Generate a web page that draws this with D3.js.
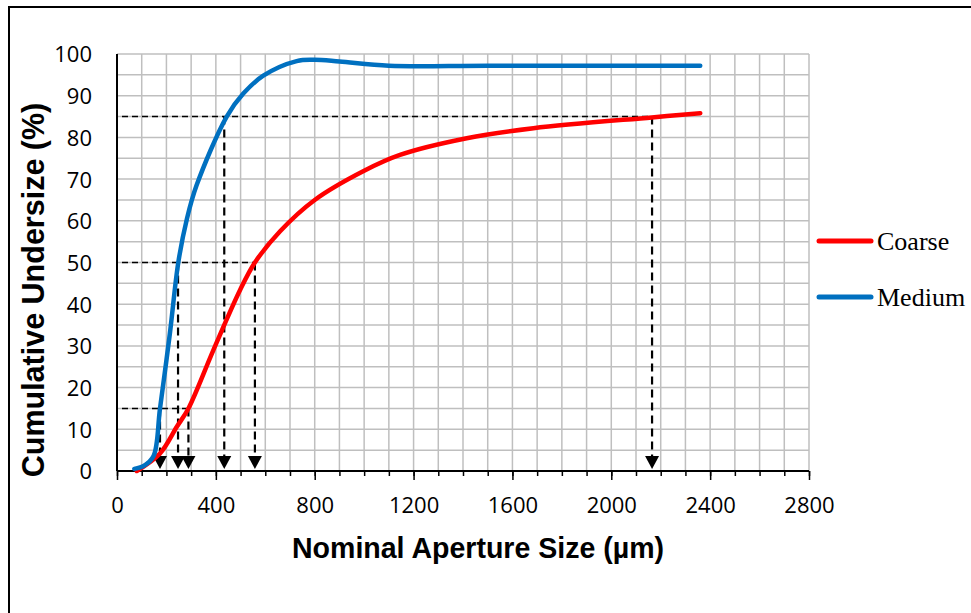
<!DOCTYPE html>
<html>
<head>
<meta charset="utf-8">
<script src="https://cdn.jsdelivr.net/npm/d3@7/dist/d3.min.js"></script>
<style>
	body { margin: 0; background: #fff; }
	svg { display: block; }
</style>
</head>
<body>
<script>
var svgWidth = 971;
var svgHeight = 613;
var plot = {left: 117, top: 54, right: 809, bottom: 471};

// 粒度数据 (µm, %)
var mediumSize = [70, 110, 148, 174, 214, 248, 283, 322, 444, 511, 592, 727, 800, 900, 1100, 1500, 2360];
var mediumPass = [0.5, 1.3, 3.6, 15, 33, 50, 60.5, 68.5, 85, 90.5, 94.8, 98.3, 98.6, 98.2, 97.2, 97.2, 97.2];
var coarseSize = [80, 174, 242, 289, 390, 498, 558, 660, 800, 1000, 1145, 1415, 1685, 2164, 2360];
var coarsePass = [0, 4.2, 10.6, 15, 29, 43.4, 50, 57.5, 65, 72, 75.8, 79.8, 82.2, 84.8, 85.8];

// D15 / D50 / D85 标注
var levels = [15, 50, 85];
var mediumD = [174, 247, 434];
var coarseD = [289, 558, 2165];

var xTicks = [0, 400, 800, 1200, 1600, 2000, 2400, 2800];
var yTicks = [0, 10, 20, 30, 40, 50, 60, 70, 80, 90, 100];
var seriesNames = ['Coarse', 'Medium'];
var seriesColors = ['#ff0000', '#0070c0'];

var svg = d3.select('body').append('svg')
	.attr('width', svgWidth)
	.attr('height', svgHeight);

svg.append('rect')
	.attr('width', svgWidth).attr('height', svgHeight)
	.attr('fill', '#fff');

// 外框
svg.append('rect')
	.attr('x', 9).attr('y', 7)
	.attr('width', 1000).attr('height', 700)
	.attr('fill', 'none')
	.attr('stroke', '#000')
	.attr('stroke-width', 2);

var x = d3.scaleLinear().domain([0, 2800]).range([plot.left, plot.right]);
var y = d3.scaleLinear().domain([0, 100]).range([plot.bottom, plot.top]);

// 网格
var gridG = svg.append('g').attr('id', 'grid');
gridG.selectAll('line.vgrid')
	.data(d3.range(100, 2801, 100))
	.enter().append('line')
	.attr('class', 'vgrid')
	.attr('x1', function(d) { return x(d); })
	.attr('x2', function(d) { return x(d); })
	.attr('y1', y(0)).attr('y2', y(100))
	.attr('stroke', '#bfbfbf').attr('stroke-width', 1.5);
gridG.selectAll('line.hgrid')
	.data(d3.range(5, 101, 5))
	.enter().append('line')
	.attr('class', 'hgrid')
	.attr('y1', function(d) { return y(d); })
	.attr('y2', function(d) { return y(d); })
	.attr('x1', x(0)).attr('x2', x(2800))
	.attr('stroke', '#bfbfbf').attr('stroke-width', 1.5);

// 坐标轴
var minorAxis = d3.axisBottom(x).tickValues(d3.range(0, 2801, 100)).tickSize(5).tickFormat('');
var majorAxis = d3.axisBottom(x).tickValues(xTicks).tickSize(9).tickPadding(17).tickFormat(d3.format('d'));
var leftAxis = d3.axisLeft(y).tickValues(yTicks).tickSize(0).tickPadding(25);

var gx1 = svg.append('g').attr('transform', 'translate(0,' + y(0) + ')').call(minorAxis);
var gx2 = svg.append('g').attr('transform', 'translate(0,' + y(0) + ')').call(majorAxis);
var gy = svg.append('g').attr('transform', 'translate(' + x(0) + ',0)').call(leftAxis);
[gx1, gx2, gy].forEach(function(g) {
	g.select('.domain').remove();
	g.selectAll('.tick line').attr('stroke', '#000').attr('stroke-width', 1.5);
	g.selectAll('.tick text')
		.attr('fill', '#000')
		.style('font-family', '"Open Sans", sans-serif')
		.style('font-size', '22px');
});
gx2.selectAll('.tick line').attr('y2', 9);
gy.selectAll('.tick text').attr('dy', '0.36em');

svg.append('line')
	.attr('x1', x(0)).attr('x2', x(2800))
	.attr('y1', y(0)).attr('y2', y(0))
	.attr('stroke', '#000').attr('stroke-width', 2);
svg.append('line')
	.attr('x1', x(0)).attr('x2', x(0))
	.attr('y1', y(0)).attr('y2', y(100))
	.attr('stroke', '#000').attr('stroke-width', 2);

// 虚线标注
var markG = svg.append('g').attr('id', 'marks');
var hEnds = levels.map(function(lv, i) { return Math.max(mediumD[i], coarseD[i]); });
markG.selectAll('line.hdash')
	.data(levels)
	.enter().append('line')
	.attr('class', 'hdash')
	.attr('x1', x(0) + 5)
	.attr('x2', function(d, i) { return x(hEnds[i]); })
	.attr('y1', function(d) { return y(d); })
	.attr('y2', function(d) { return y(d); })
	.attr('stroke', '#000').attr('stroke-width', 1.5)
	.attr('stroke-dasharray', '6,4');

var drops = [];
levels.forEach(function(lv, i) {
	drops.push({d: mediumD[i], lv: lv});
	drops.push({d: coarseD[i], lv: lv});
});

markG.selectAll('line.vdash')
	.data(drops)
	.enter().append('line')
	.attr('class', 'vdash')
	.attr('x1', function(d) { return x(d.d); })
	.attr('x2', function(d) { return x(d.d); })
	.attr('y1', function(d) { return y(d.lv); })
	.attr('y2', y(0) - 13)
	.attr('stroke', '#000').attr('stroke-width', 2.2)
	.attr('stroke-dasharray', '8,5');

markG.selectAll('path.arrow')
	.data(drops)
	.enter().append('path')
	.attr('class', 'arrow')
	.attr('d', function(d) {
		var cx = x(d.d), tip = y(0) - 2, base = y(0) - 15;
		return 'M' + (cx - 7) + ',' + base + 'L' + (cx + 7) + ',' + base + 'L' + cx + ',' + tip + 'Z';
	})
	.attr('fill', '#000');

// 曲线
var line = d3.line()
	.x(function(d) { return x(d[0]); })
	.y(function(d) { return y(d[1]); })
	.curve(d3.curveCatmullRom.alpha(0.5));

var seriesData = [d3.zip(coarseSize, coarsePass), d3.zip(mediumSize, mediumPass)];

svg.append('g').selectAll('path.series')
	.data(seriesData)
	.enter().append('path')
	.attr('class', 'series')
	.attr('d', line)
	.attr('fill', 'none')
	.attr('stroke', function(d, i) { return seriesColors[i]; })
	.attr('stroke-width', 4.5)
	.attr('stroke-linecap', 'round')
	.attr('stroke-linejoin', 'round');

// 图例
var legendY = [241, 297];
var legend = svg.append('g').selectAll('g')
	.data(seriesNames)
	.enter().append('g')
	.attr('transform', function(d, i) { return 'translate(0,' + legendY[i] + ')'; });
legend.append('line')
	.attr('x1', 819).attr('x2', 871)
	.attr('stroke', function(d, i) { return seriesColors[i]; })
	.attr('stroke-width', 5)
	.attr('stroke-linecap', 'round');
legend.append('text')
	.attr('x', 877).attr('y', 9)
	.style('font-family', '"Liberation Serif", "Times New Roman", serif')
	.style('font-size', '26px')
	.text(function(d) { return d; });

// 轴标题
svg.append('text')
	.attr('x', 478).attr('y', 558)
	.attr('text-anchor', 'middle')
	.attr('textLength', 372)
	.attr('lengthAdjust', 'spacingAndGlyphs')
	.style('font-family', '"Liberation Sans", Arial, sans-serif')
	.style('font-weight', 'bold')
	.style('font-size', '30px')
	.text('Nominal Aperture Size (µm)');

svg.append('text')
	.attr('transform', 'translate(44,' + 290 + ') rotate(-90)')
	.attr('text-anchor', 'middle')
	.style('font-family', '"Liberation Sans", Arial, sans-serif')
	.style('font-weight', 'bold')
	.style('font-size', '30.5px')
	.text('Cumulative Undersize (%)');
</script>
</body>
</html>
